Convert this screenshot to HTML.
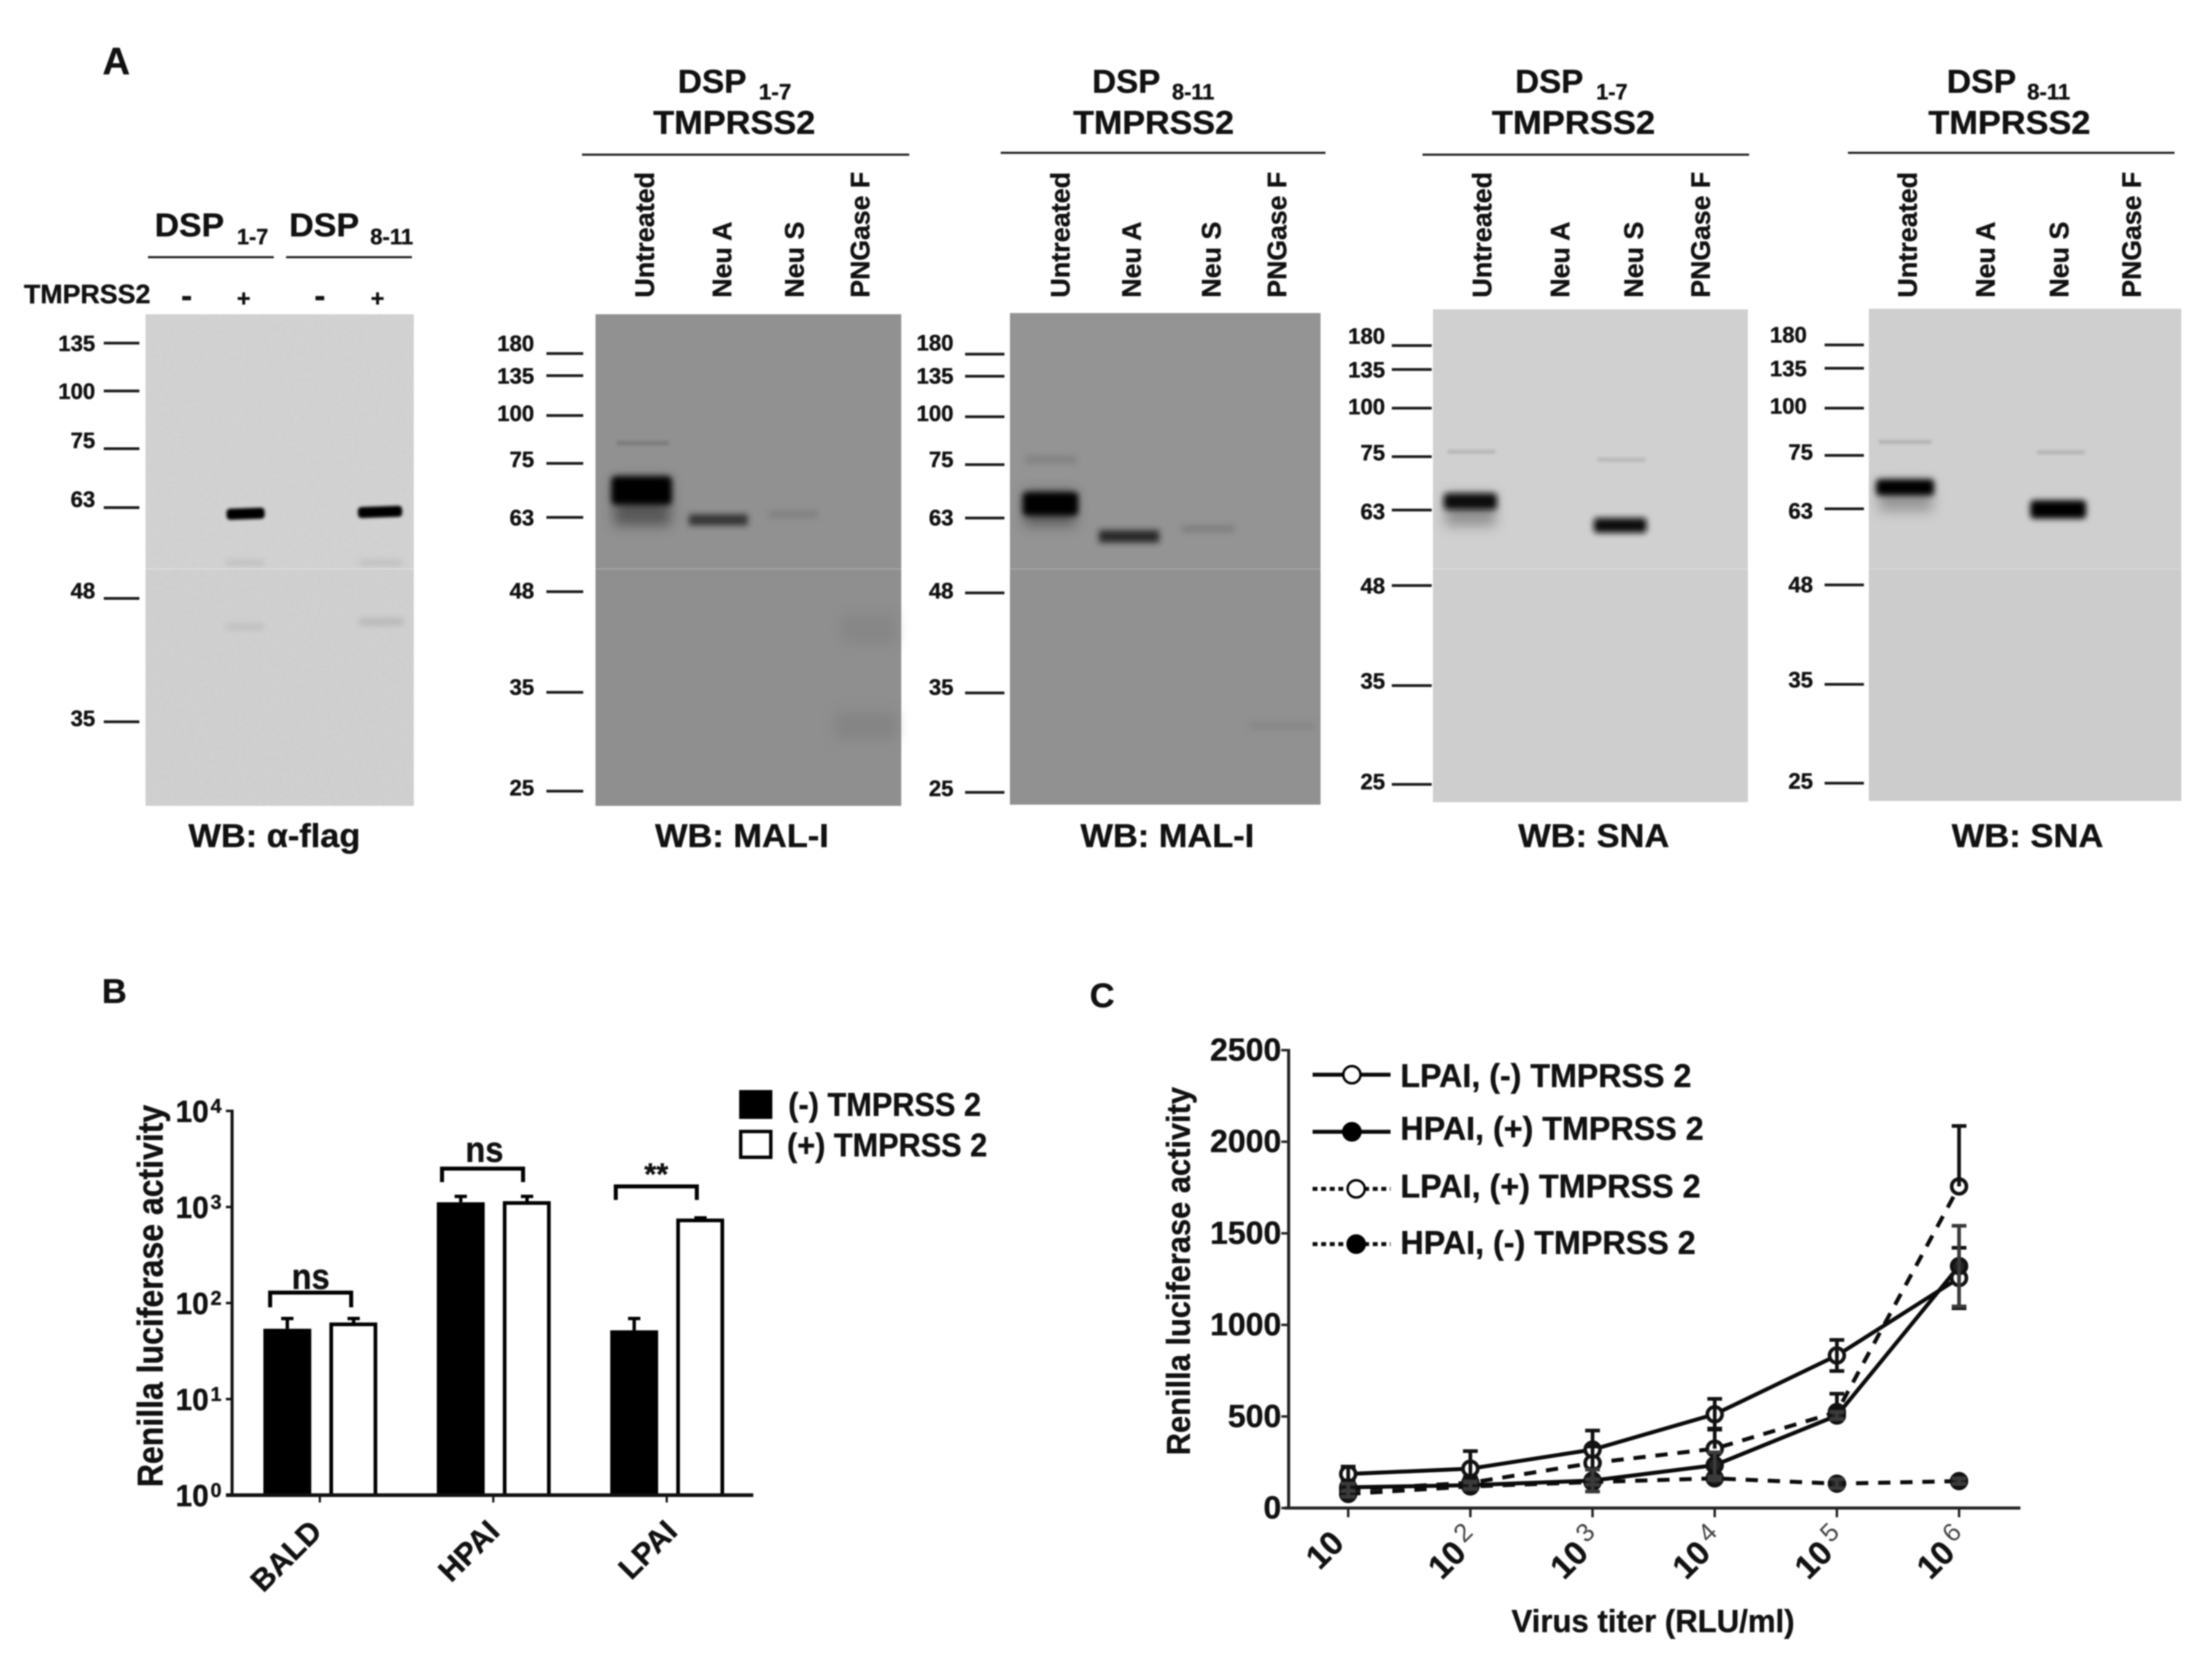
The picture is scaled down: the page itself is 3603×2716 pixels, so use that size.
<!DOCTYPE html>
<html lang="en">
<head>
<meta charset="utf-8">
<title>Western blots and Renilla luciferase activity</title>
<style>
html,body{margin:0;padding:0;background:#fff;}
body{width:3603px;height:2716px;overflow:hidden;}
#figure{display:block;filter:blur(1px);}
text{font-family:"Liberation Sans",sans-serif;font-weight:700;fill:#111;stroke:#111;stroke-width:.6px;}
.mw{font-size:36px;text-anchor:end;}
.hd{font-size:54px;}
.sub{font-size:36px;}
.wb{font-size:54px;}
.lane{font-size:44px;}
.mwt line{stroke:#1a1a1a;stroke-width:4.5;}
</style>
</head>
<body>
<svg id="figure" xmlns="http://www.w3.org/2000/svg" width="3603" height="2716" viewBox="0 0 3603 2716">
<defs>
<filter id="b2" x="-30%" y="-100%" width="160%" height="300%"><feGaussianBlur stdDeviation="2.5"/></filter>
<filter id="b5" x="-30%" y="-100%" width="160%" height="300%"><feGaussianBlur stdDeviation="5"/></filter>
<filter id="b10" x="-40%" y="-150%" width="180%" height="400%"><feGaussianBlur stdDeviation="10"/></filter>
<filter id="b20" x="-50%" y="-50%" width="200%" height="200%"><feGaussianBlur stdDeviation="20"/></filter>
<filter id="grain" x="0" y="0" width="100%" height="100%"><feTurbulence type="fractalNoise" baseFrequency="0.18" numOctaves="2" seed="4"/><feColorMatrix type="matrix" values="0 0 0 0 0.3  0 0 0 0 0.3  0 0 0 0 0.3  0.5 0 0 0 -0.2"/></filter>
</defs>
<rect width="3603" height="2716" fill="#fff"/>

<!-- PANEL A -->
<g>
<text x="167" y="121" font-size="62">A</text>

<!-- Blot 1 -->
<g>
<rect x="237" y="512" width="437" height="801" fill="#d2d2d2"/>
<rect x="237" y="928" width="437" height="385" fill="#d0d0d0"/>
<rect x="237" y="512" width="437" height="801" filter="url(#grain)" opacity=".2"/>
<rect x="369" y="828" width="62" height="18" rx="6" fill="#000" filter="url(#b2)" transform="rotate(-2 400 837)"/>
<rect x="583" y="825" width="72" height="18" rx="6" fill="#000" filter="url(#b2)" transform="rotate(-2 620 834)"/>
<rect x="368" y="912" width="62" height="10" fill="#aaa" opacity=".45" filter="url(#b5)"/>
<rect x="585" y="912" width="70" height="10" fill="#aaa" opacity=".45" filter="url(#b5)"/>
<rect x="368" y="1016" width="62" height="10" fill="#aaa" opacity=".45" filter="url(#b5)"/>
<rect x="585" y="1008" width="72" height="10" fill="#999" opacity=".5" filter="url(#b5)"/>
<rect x="237" y="926" width="437" height="2" fill="#dedede"/>
</g>
<g class="mwt">
<text class="mw" x="155" y="572">135</text><line x1="169" x2="227" y1="559" y2="559"/>
<text class="mw" x="155" y="650">100</text><line x1="169" x2="227" y1="637" y2="637"/>
<text class="mw" x="155" y="730">75</text><line x1="169" x2="227" y1="731" y2="731"/>
<text class="mw" x="155" y="826">63</text><line x1="169" x2="227" y1="827" y2="827"/>
<text class="mw" x="155" y="975">48</text><line x1="169" x2="227" y1="975" y2="975"/>
<text class="mw" x="155" y="1183">35</text><line x1="169" x2="227" y1="1176" y2="1176"/>
</g>
<text class="hd" x="252" y="385" textLength="113" lengthAdjust="spacingAndGlyphs">DSP</text>
<text class="sub" x="386" y="398" textLength="51" lengthAdjust="spacingAndGlyphs">1-7</text>
<text class="hd" x="471" y="385" textLength="114" lengthAdjust="spacingAndGlyphs">DSP</text>
<text class="sub" x="603" y="398" textLength="70" lengthAdjust="spacingAndGlyphs">8-11</text>
<line x1="241" x2="446" y1="419" y2="419" stroke="#222" stroke-width="3.5"/>
<line x1="466" x2="671" y1="419" y2="419" stroke="#222" stroke-width="3.5"/>
<text x="39" y="494" font-size="44" textLength="206" lengthAdjust="spacingAndGlyphs">TMPRSS2</text>
<text x="304" y="500" font-size="54" text-anchor="middle">-</text>
<text x="397" y="499" font-size="38" text-anchor="middle">+</text>
<text x="521" y="500" font-size="54" text-anchor="middle">-</text>
<text x="615" y="499" font-size="38" text-anchor="middle">+</text>
<text class="wb" x="307" y="1380" textLength="280" lengthAdjust="spacingAndGlyphs">WB: α-flag</text>

<!-- Blot 2 -->
<g>
<rect x="970" y="512" width="498" height="801" fill="#919191"/>
<rect x="970" y="928" width="498" height="385" fill="#8f8f8f"/>
<rect x="970" y="512" width="498" height="801" filter="url(#grain)" opacity=".15"/>
<rect x="1000" y="780" width="92" height="76" fill="#333" opacity=".6" filter="url(#b10)"/>
<rect x="996" y="776" width="98" height="46" rx="6" fill="#000" filter="url(#b5)"/>
<rect x="1005" y="718" width="84" height="8" fill="#666" opacity=".45" filter="url(#b2)"/>
<rect x="1122" y="838" width="96" height="18" fill="#2a2a2a" opacity=".9" filter="url(#b5)"/>
<rect x="1252" y="832" width="80" height="12" fill="#777" opacity=".6" filter="url(#b5)"/>
<rect x="1360" y="1160" width="100" height="45" fill="#7a7a7a" opacity=".5" filter="url(#b10)"/>
<rect x="1370" y="1000" width="90" height="50" fill="#7a7a7a" opacity=".4" filter="url(#b10)"/>
<rect x="970" y="926" width="498" height="2" fill="#a8a8a8"/>
</g>
<g class="mwt">
<text class="mw" x="870" y="572">180</text><line x1="890" x2="950" y1="576" y2="576"/>
<text class="mw" x="870" y="625">135</text><line x1="890" x2="950" y1="612" y2="612"/>
<text class="mw" x="870" y="686">100</text><line x1="890" x2="950" y1="677" y2="677"/>
<text class="mw" x="870" y="761">75</text><line x1="890" x2="950" y1="755" y2="755"/>
<text class="mw" x="870" y="856">63</text><line x1="890" x2="950" y1="843" y2="843"/>
<text class="mw" x="870" y="975">48</text><line x1="890" x2="950" y1="964" y2="964"/>
<text class="mw" x="870" y="1132">35</text><line x1="890" x2="950" y1="1128" y2="1128"/>
<text class="mw" x="870" y="1296">25</text><line x1="890" x2="950" y1="1289" y2="1289"/>
</g>
<g>
<text class="hd" x="1104" y="151" textLength="112" lengthAdjust="spacingAndGlyphs">DSP</text>
<text class="sub" x="1236" y="162" textLength="53" lengthAdjust="spacingAndGlyphs">1-7</text>
<text class="hd" x="1064" y="218" textLength="264" lengthAdjust="spacingAndGlyphs">TMPRSS2</text>
<line x1="948" x2="1481" y1="252" y2="252" stroke="#222" stroke-width="3.5"/>
<text class="lane" transform="translate(1065 485) rotate(-90)" textLength="205" lengthAdjust="spacingAndGlyphs">Untreated</text>
<text class="lane" transform="translate(1191 485) rotate(-90)" textLength="124" lengthAdjust="spacingAndGlyphs">Neu A</text>
<text class="lane" transform="translate(1309 485) rotate(-90)" textLength="124" lengthAdjust="spacingAndGlyphs">Neu S</text>
<text class="lane" transform="translate(1416 485) rotate(-90)" textLength="205" lengthAdjust="spacingAndGlyphs">PNGase F</text>
</g>
<text class="wb" x="1067" y="1380" textLength="283" lengthAdjust="spacingAndGlyphs">WB: MAL-I</text>

<!-- Blot 3 -->
<g>
<rect x="1645" y="510" width="506" height="801" fill="#949494"/>
<rect x="1645" y="928" width="506" height="383" fill="#919191"/>
<rect x="1645" y="510" width="506" height="801" filter="url(#grain)" opacity=".15"/>
<rect x="1668" y="800" width="84" height="56" fill="#333" opacity=".55" filter="url(#b10)"/>
<rect x="1666" y="802" width="90" height="38" rx="6" fill="#000" filter="url(#b5)"/>
<rect x="1670" y="742" width="84" height="14" fill="#777" opacity=".55" filter="url(#b5)"/>
<rect x="1790" y="864" width="98" height="20" fill="#1e1e1e" opacity=".9" filter="url(#b5)"/>
<rect x="1925" y="856" width="86" height="11" fill="#707070" opacity=".6" filter="url(#b5)"/>
<rect x="2035" y="1176" width="106" height="14" fill="#808080" opacity=".5" filter="url(#b5)"/>
<rect x="1645" y="926" width="506" height="2" fill="#a8a8a8"/>
</g>
<g class="mwt">
<text class="mw" x="1553" y="571">180</text><line x1="1572" x2="1636" y1="577" y2="577"/>
<text class="mw" x="1553" y="625">135</text><line x1="1572" x2="1636" y1="613" y2="613"/>
<text class="mw" x="1553" y="686">100</text><line x1="1572" x2="1636" y1="679" y2="679"/>
<text class="mw" x="1553" y="761">75</text><line x1="1572" x2="1636" y1="757" y2="757"/>
<text class="mw" x="1553" y="856">63</text><line x1="1572" x2="1636" y1="844" y2="844"/>
<text class="mw" x="1553" y="975">48</text><line x1="1572" x2="1636" y1="966" y2="966"/>
<text class="mw" x="1553" y="1132">35</text><line x1="1572" x2="1636" y1="1129" y2="1129"/>
<text class="mw" x="1553" y="1297">25</text><line x1="1572" x2="1636" y1="1291" y2="1291"/>
</g>
<g>
<text class="hd" x="1779" y="151" textLength="111" lengthAdjust="spacingAndGlyphs">DSP</text>
<text class="sub" x="1909" y="162" textLength="69" lengthAdjust="spacingAndGlyphs">8-11</text>
<text class="hd" x="1748" y="218" textLength="262" lengthAdjust="spacingAndGlyphs">TMPRSS2</text>
<line x1="1630" x2="2159" y1="249" y2="249" stroke="#222" stroke-width="3.5"/>
<text class="lane" transform="translate(1742 485) rotate(-90)" textLength="205" lengthAdjust="spacingAndGlyphs">Untreated</text>
<text class="lane" transform="translate(1858 485) rotate(-90)" textLength="124" lengthAdjust="spacingAndGlyphs">Neu A</text>
<text class="lane" transform="translate(1988 485) rotate(-90)" textLength="124" lengthAdjust="spacingAndGlyphs">Neu S</text>
<text class="lane" transform="translate(2095 485) rotate(-90)" textLength="205" lengthAdjust="spacingAndGlyphs">PNGase F</text>
</g>
<text class="wb" x="1760" y="1380" textLength="283" lengthAdjust="spacingAndGlyphs">WB: MAL-I</text>

<!-- Blot 4 -->
<g>
<rect x="2334" y="504" width="513" height="803" fill="#d0d0d0"/>
<rect x="2334" y="928" width="513" height="379" fill="#cecece"/>
<rect x="2354" y="805" width="82" height="52" fill="#555" opacity=".5" filter="url(#b10)"/>
<rect x="2352" y="804" width="86" height="26" rx="5" fill="#0a0a0a" filter="url(#b5)"/>
<rect x="2358" y="733" width="78" height="6" fill="#999" opacity=".5" filter="url(#b2)"/>
<rect x="2596" y="844" width="86" height="24" rx="5" fill="#111" filter="url(#b5)"/>
<rect x="2602" y="746" width="78" height="6" fill="#999" opacity=".45" filter="url(#b2)"/>
<rect x="2334" y="926" width="513" height="2" fill="#dadada"/>
</g>
<g class="mwt">
<text class="mw" x="2256" y="560">180</text><line x1="2267" x2="2332" y1="563" y2="563"/>
<text class="mw" x="2256" y="615">135</text><line x1="2267" x2="2332" y1="602" y2="602"/>
<text class="mw" x="2256" y="675">100</text><line x1="2267" x2="2332" y1="665" y2="665"/>
<text class="mw" x="2256" y="750">75</text><line x1="2267" x2="2332" y1="744" y2="744"/>
<text class="mw" x="2256" y="846">63</text><line x1="2267" x2="2332" y1="831" y2="831"/>
<text class="mw" x="2256" y="967">48</text><line x1="2267" x2="2332" y1="954" y2="954"/>
<text class="mw" x="2256" y="1122">35</text><line x1="2267" x2="2332" y1="1117" y2="1117"/>
<text class="mw" x="2256" y="1286">25</text><line x1="2267" x2="2332" y1="1278" y2="1278"/>
</g>
<g>
<text class="hd" x="2468" y="151" textLength="111" lengthAdjust="spacingAndGlyphs">DSP</text>
<text class="sub" x="2600" y="162" textLength="51" lengthAdjust="spacingAndGlyphs">1-7</text>
<text class="hd" x="2430" y="218" textLength="266" lengthAdjust="spacingAndGlyphs">TMPRSS2</text>
<line x1="2317" x2="2849" y1="252" y2="252" stroke="#222" stroke-width="3.5"/>
<text class="lane" transform="translate(2429 485) rotate(-90)" textLength="205" lengthAdjust="spacingAndGlyphs">Untreated</text>
<text class="lane" transform="translate(2556 485) rotate(-90)" textLength="124" lengthAdjust="spacingAndGlyphs">Neu A</text>
<text class="lane" transform="translate(2676 485) rotate(-90)" textLength="124" lengthAdjust="spacingAndGlyphs">Neu S</text>
<text class="lane" transform="translate(2785 485) rotate(-90)" textLength="205" lengthAdjust="spacingAndGlyphs">PNGase F</text>
</g>
<text class="wb" x="2473" y="1380" textLength="246" lengthAdjust="spacingAndGlyphs">WB: SNA</text>

<!-- Blot 5 -->
<g>
<rect x="3044" y="503" width="509" height="802" fill="#cfcfcf"/>
<rect x="3044" y="928" width="509" height="377" fill="#cccccc"/>
<rect x="3060" y="785" width="88" height="48" fill="#555" opacity=".45" filter="url(#b10)"/>
<rect x="3056" y="781" width="94" height="26" rx="5" fill="#000" filter="url(#b5)"/>
<rect x="3060" y="717" width="86" height="6" fill="#999" opacity=".55" filter="url(#b2)"/>
<rect x="3307" y="815" width="91" height="30" rx="6" fill="#000" filter="url(#b5)"/>
<rect x="3318" y="734" width="78" height="6" fill="#999" opacity=".5" filter="url(#b2)"/>
<rect x="3044" y="926" width="509" height="2" fill="#d8d8d8"/>
</g>
<g class="mwt">
<text class="mw" x="2943" y="558">180</text><line x1="2972" x2="3036" y1="562" y2="562"/>
<text class="mw" x="2943" y="613">135</text><line x1="2972" x2="3036" y1="600" y2="600"/>
<text class="mw" x="2943" y="674">100</text><line x1="2972" x2="3036" y1="665" y2="665"/>
<text class="mw" x="2953" y="749">75</text><line x1="2972" x2="3036" y1="742" y2="742"/>
<text class="mw" x="2953" y="845">63</text><line x1="2972" x2="3036" y1="829" y2="829"/>
<text class="mw" x="2953" y="965">48</text><line x1="2972" x2="3036" y1="953" y2="953"/>
<text class="mw" x="2953" y="1120">35</text><line x1="2972" x2="3036" y1="1115" y2="1115"/>
<text class="mw" x="2953" y="1285">25</text><line x1="2972" x2="3036" y1="1276" y2="1276"/>
</g>
<g>
<text class="hd" x="3171" y="151" textLength="113" lengthAdjust="spacingAndGlyphs">DSP</text>
<text class="sub" x="3302" y="162" textLength="70" lengthAdjust="spacingAndGlyphs">8-11</text>
<text class="hd" x="3141" y="218" textLength="264" lengthAdjust="spacingAndGlyphs">TMPRSS2</text>
<line x1="3010" x2="3542" y1="249" y2="249" stroke="#222" stroke-width="3.5"/>
<text class="lane" transform="translate(3122 485) rotate(-90)" textLength="205" lengthAdjust="spacingAndGlyphs">Untreated</text>
<text class="lane" transform="translate(3249 485) rotate(-90)" textLength="124" lengthAdjust="spacingAndGlyphs">Neu A</text>
<text class="lane" transform="translate(3369 485) rotate(-90)" textLength="124" lengthAdjust="spacingAndGlyphs">Neu S</text>
<text class="lane" transform="translate(3487 485) rotate(-90)" textLength="205" lengthAdjust="spacingAndGlyphs">PNGase F</text>
</g>
<text class="wb" x="3179" y="1380" textLength="247" lengthAdjust="spacingAndGlyphs">WB: SNA</text>
</g>

<!-- PANEL B -->
<g id="panel-b">
<text x="166" y="1634" font-size="56">B</text>
<text transform="translate(265 2423) rotate(-90)" font-size="58" textLength="623" lengthAdjust="spacingAndGlyphs">Renilla luciferase activity</text>
<g>
<rect x="1204" y="1776" width="54" height="47" fill="#000"/>
<text x="1284" y="1818" font-size="54" textLength="314" lengthAdjust="spacingAndGlyphs">(-) TMPRSS 2</text>
<rect x="1206.5" y="1843.5" width="49" height="42" fill="#fff" stroke="#000" stroke-width="5.5"/>
<text x="1282" y="1884" font-size="54" textLength="326" lengthAdjust="spacingAndGlyphs">(+) TMPRSS 2</text>
</g>
<g fill="none" stroke="#000" stroke-width="6.5">
<path d="M440 2130V2106H572V2130"/>
<path d="M720 1926V1904H852V1926"/>
<path d="M1003 1955V1933H1135V1955"/>
</g>
<text x="506" y="2100" font-size="58" text-anchor="middle" textLength="62" lengthAdjust="spacingAndGlyphs">ns</text>
<text x="789" y="1893" font-size="58" text-anchor="middle" textLength="62" lengthAdjust="spacingAndGlyphs">ns</text>
<text x="1069" y="1930" font-size="50" text-anchor="middle">**</text>
</g>

<!-- PANEL C -->
<g id="panel-c">
<text x="1775" y="1641" font-size="56">C</text>
<text transform="translate(1938 2371) rotate(-90)" font-size="54" textLength="600" lengthAdjust="spacingAndGlyphs">Renilla luciferase activity</text>
<text x="2462" y="2659" font-size="52" textLength="461" lengthAdjust="spacingAndGlyphs">Virus titer (RLU/ml)</text>
</g>
</svg>

<script>
/* Panel B data */
const barCategories = ['BALD', 'HPAI', 'LPAI'];
const barNegValues = [54, 1120, 52];
const barPosValues = [60, 1100, 725];
const barNegErrorTop = [69, 1290, 69];
const barPosErrorTop = [69, 1290, 770];
const barLogTicks = [0, 1, 2, 3, 4];

/* Panel C data */
const titerExponents = [1, 2, 3, 4, 5, 6];
const lineYTicks = [0, 500, 1000, 1500, 2000, 2500];
const lpaiNegValues = [186, 215, 319, 512, 833, 1256];
const lpaiNegErrors = [40, 96, 104, 84, 85, 165];
const hpaiPosValues = [113, 125, 150, 234, 505, 1321];
const hpaiPosErrors = [20, 20, 60, 70, 20, 220];
const lpaiPosValues = [100, 138, 246, 324, 524, 1756];
const lpaiPosErrors = [20, 30, 90, 110, 100, 330];
const hpaiNegValues = [77, 118, 142, 162, 133, 147];
const hpaiNegErrors = [15, 15, 15, 10, 25, 15];
const legendLabels = ['LPAI, (-) TMPRSS 2', 'HPAI, (+) TMPRSS 2', 'LPAI, (+) TMPRSS 2', 'HPAI, (-) TMPRSS 2'];

const NS = 'http://www.w3.org/2000/svg';
function el(tag, attrs, parent, txt) {
  const n = document.createElementNS(NS, tag);
  for (const k in attrs) n.setAttribute(k, attrs[k]);
  if (txt !== undefined) n.textContent = txt;
  parent.appendChild(n);
  return n;
}

/* ---------- Panel B ---------- */
const pb = document.getElementById('panel-b');
const bY = v => 2436 - 156.5 * Math.log10(v);
const bYExp = e => 2436 - 156.5 * e;
const bX = i => 521 + 282.5 * i;

barCategories.forEach((c, i) => {
  const cx = bX(i);
  const base = bY(1);

  const negTop = bY(barNegValues[i]);
  const negBar = el('rect', {x: cx - 92, y: negTop, width: 78, height: base - negTop, fill: '#000'}, pb);
  
  

  const posTop = bY(barPosValues[i]);
  const posBar = el('rect', {x: cx + 18.5, y: posTop, width: 72, height: base - posTop, fill: '#fff', stroke: '#000', 'stroke-width': 6}, pb);
  
  

  const negErrY = bY(barNegErrorTop[i]);
  const negErr = el('path', {d: `M${cx - 53} ${negTop}V${negErrY}M${cx - 63} ${negErrY}H${cx - 43}`, stroke: '#000', 'stroke-width': 5.5, fill: 'none'}, pb);
  
  

  const posErrY = bY(barPosErrorTop[i]);
  const posErr = el('path', {d: `M${cx + 55} ${posTop}V${posErrY}M${cx + 45} ${posErrY}H${cx + 65}`, stroke: '#000', 'stroke-width': 5.5, fill: 'none'}, pb);
  
  

  const tick = el('line', {x1: cx, x2: cx, y1: base, y2: base + 12, stroke: '#111', 'stroke-width': 3.5}, pb);
  
  

  const lab = el('text', {transform: `translate(${cx + 6 + 7 * i} ${base + 62}) rotate(-45)`, 'text-anchor': 'end', 'font-size': 50}, pb, c);
  
  
});

const bYAxis = el('line', {x1: 378, x2: 378, y1: bYExp(4) - 2, y2: bYExp(0) + 2, stroke: '#111', 'stroke-width': 5}, pb);


const bXAxis = el('line', {x1: 368, x2: 1227, y1: bYExp(0), y2: bYExp(0), stroke: '#111', 'stroke-width': 6}, pb);



barLogTicks.forEach(e => {
  const y = bYExp(e);
  const t = el('line', {x1: 368, x2: 378, y1: y, y2: y, stroke: '#111', 'stroke-width': 4}, pb);
  
  
  const base = el('text', {x: 286, y: y + 18, 'font-size': 50, textLength: 54, lengthAdjust: 'spacingAndGlyphs'}, pb, '10');
  
  
  const sup = el('text', {x: 343, y: y + 3, 'font-size': 32}, pb, String(e));
  
  
});

/* ---------- Panel C ---------- */
const pc = document.getElementById('panel-c');
const cX = e => 2196 + 199 * (e - 1);
const cY = v => 2457 - 0.2984 * v;

const lineSeries = [
  {name: 'lpai-plus', vals: lpaiPosValues, errs: lpaiPosErrors, filled: false, dashed: true, upOnly: true},
  {name: 'hpai-minus', vals: hpaiNegValues, errs: hpaiNegErrors, filled: true, dashed: true, upOnly: false},
  {name: 'lpai-minus', vals: lpaiNegValues, errs: lpaiNegErrors, filled: false, dashed: false, upOnly: false},
  {name: 'hpai-plus', vals: hpaiPosValues, errs: hpaiPosErrors, filled: true, dashed: false, upOnly: false}
];

lineSeries.forEach(s => {
  const pts = s.vals.map((v, i) => cX(titerExponents[i]) + ',' + cY(v)).join(' ');
  const line = el('polyline', {points: pts, fill: 'none', stroke: '#0a0a0a', 'stroke-width': 6.5, 'stroke-dasharray': s.dashed ? '20 16' : 'none'}, pc);
  
  
});
lineSeries.forEach(s => {
  s.vals.forEach((v, i) => {
    const m = el('circle', {cx: cX(titerExponents[i]), cy: cY(v), r: 12, fill: s.filled ? '#222' : '#fff', stroke: '#111', 'stroke-width': 6}, pc);
    
    
  });
});
lineSeries.forEach(s => {
  const color = s.filled ? '#3a3a3a' : '#111';
  s.vals.forEach((v, i) => {
    const x = cX(titerExponents[i]);
    const up = cY(v + s.errs[i]);
    const dn = s.upOnly ? cY(v) : cY(Math.max(0, v - s.errs[i]));
    const lowerCap = s.upOnly ? '' : `M${x - 12} ${dn}H${x + 12}`;
    const d = `M${x} ${up}V${dn}M${x - 12} ${up}H${x + 12}` + lowerCap;
    const eb = el('path', {d: d, fill: 'none', stroke: color, 'stroke-width': 6}, pc);
    
    
  });
});

const cYAxis = el('line', {x1: 2099, x2: 2099, y1: cY(2500) - 2, y2: cY(0) + 2, stroke: '#222', 'stroke-width': 5}, pc);


const cXAxis = el('line', {x1: 2092, x2: 3291, y1: cY(0), y2: cY(0), stroke: '#222', 'stroke-width': 5}, pc);



lineYTicks.forEach(v => {
  const y = cY(v);
  const t = el('line', {x1: 2087, x2: 2099, y1: y, y2: y, stroke: '#222', 'stroke-width': 4}, pc);
  
  
  const l = el('text', {x: 2087, y: y + 17, 'font-size': 52, 'text-anchor': 'end', textLength: 29 * String(v).length, lengthAdjust: 'spacingAndGlyphs'}, pc, String(v));
  
  
});

titerExponents.forEach(e => {
  const x = cX(e);
  const t = el('line', {x1: x, x2: x, y1: cY(0), y2: cY(0) + 15, stroke: '#222', 'stroke-width': 4}, pc);
  
  
  const yOff = e === 1 ? 60 : 76;
  const base = el('text', {transform: `translate(${x - 4} ${cY(0) + yOff}) rotate(-45)`, 'font-size': 54, 'text-anchor': 'end'}, pc, '10');
  
  
  if (e > 1) {
    const sup = el('text', {transform: `translate(${x - 2} ${cY(0) + 50}) rotate(-45)`, 'font-size': 42, 'text-anchor': 'middle', style: 'font-weight:400;fill:#444;stroke:none'}, pc, String(e));
    
    
  }
});

/* Legend for panel C */
const legendMarkerFilled = [false, true, false, true];
const legendDashed = [false, false, true, true];
const legendTextWidths = [474, 494, 489, 481];
legendLabels.forEach((label, i) => {
  const rowY = [1751, 1844, 1937, 2027][i];
  const baseY = [1771, 1857, 1951, 2043][i];
  const mx = legendDashed[i] ? 2209 : 2202;
  const ln = el('line', {x1: 2138, x2: 2265, y1: rowY, y2: rowY, stroke: '#0a0a0a', 'stroke-width': 6.5, 'stroke-dasharray': legendDashed[i] ? '8 6' : 'none'}, pc);
  
  
  const mk = el('circle', {cx: mx, cy: rowY, r: 14, fill: legendMarkerFilled[i] ? '#000' : '#fff', stroke: '#000', 'stroke-width': 4}, pc);
  
  
  const tx = el('text', {x: 2281, y: baseY, 'font-size': 54, textLength: legendTextWidths[i], lengthAdjust: 'spacingAndGlyphs'}, pc, label);
  
  
});
</script>
</body>
</html>
